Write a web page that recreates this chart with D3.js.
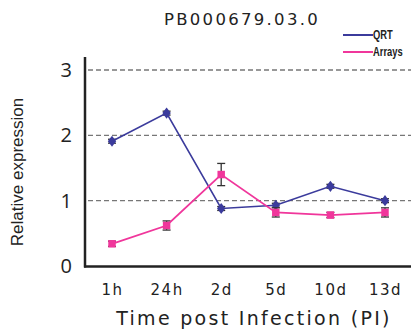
<!DOCTYPE html>
<html>
<head>
<meta charset="utf-8">
<script src="https://cdn.jsdelivr.net/npm/d3@7"></script>
<style>
  body { margin: 0; background: #fff; }
  text { fill: #222; }
</style>
</head>
<body>
<script>
var width = 411;
var height = 336;

// data
var times = ["1h", "24h", "2d", "5d", "10d", "13d"];
var qrtValues = [1.91, 2.34, 0.88, 0.93, 1.22, 1.0];
var qrtErrors = [0.03, 0.03, 0.03, 0.03, 0.03, 0.03];
var arrayValues = [0.34, 0.62, 1.40, 0.82, 0.78, 0.82];
var arrayErrors = [0.04, 0.07, 0.17, 0.07, 0.04, 0.07];
var yTicks = [0, 1, 2, 3];

var svg = d3.select("body").append("svg")
  .attr("width", width)
  .attr("height", height);

var xScale = d3.scalePoint()
  .domain(times)
  .range([112, 385]);

var yScale = d3.scaleLinear()
  .domain([0, 3])
  .range([266, 70]);

// dashed grid lines
svg.selectAll(".grid")
  .data(yTicks.filter(function(d) { return d > 0; }))
  .enter().append("line")
  .attr("x1", 88).attr("x2", width)
  .attr("y1", function(d) { return yScale(d); })
  .attr("y2", function(d) { return yScale(d); })
  .attr("stroke", "#777")
  .attr("stroke-width", 1.3)
  .attr("stroke-dasharray", "5,3");

// axes
var yAxis = d3.axisLeft(yScale).tickValues(yTicks).tickSize(0).tickPadding(13)
  .tickFormat(d3.format("d"));
var gy = svg.append("g").attr("transform", "translate(85,0)").call(yAxis);
gy.select(".domain").remove();
gy.selectAll("text").attr("font-family", "Open Sans, sans-serif").attr("font-size", 20).attr("fill", "#222");

svg.append("line")
  .attr("x1", 85).attr("x2", 85).attr("y1", 57).attr("y2", 267.5)
  .attr("stroke", "#222").attr("stroke-width", 2.5);
svg.append("line")
  .attr("x1", 84).attr("x2", width).attr("y1", 266.5).attr("y2", 266.5)
  .attr("stroke", "#222").attr("stroke-width", 2.5);

var xAxis = d3.axisBottom(xScale).tickSize(0).tickPadding(0);
var gx = svg.append("g").attr("transform", "translate(0,284)").call(xAxis);
gx.select(".domain").remove();
gx.selectAll("text")
  .attr("font-family", "DejaVu Sans, sans-serif")
  .attr("font-size", 15)
  .attr("letter-spacing", 1.5)
  .attr("fill", "#222");

// titles
svg.append("text")
  .attr("x", 242).attr("y", 25)
  .attr("text-anchor", "middle")
  .attr("font-family", "DejaVu Sans, sans-serif")
  .attr("font-size", 16.5)
  .attr("letter-spacing", 2.3)
  .text("PB000679.03.0");

svg.append("text")
  .attr("x", 254).attr("y", 325)
  .attr("text-anchor", "middle")
  .attr("font-family", "DejaVu Sans, sans-serif")
  .attr("font-size", 19)
  .attr("letter-spacing", 2.3)
  .text("Time post Infection (PI)");

svg.append("text")
  .attr("transform", "translate(23,172) rotate(-90)")
  .attr("text-anchor", "middle")
  .attr("font-family", "Liberation Sans, sans-serif")
  .attr("font-size", 17)
  .text("Relative expression");

// series
var series = [
  { name: "QRT", values: qrtValues, errors: qrtErrors, color: "#3b3b9c", marker: "diamond", width: 1.6 },
  { name: "Arrays", values: arrayValues, errors: arrayErrors, color: "#f0369b", marker: "square", width: 1.8 }
];

var line = d3.line()
  .x(function(d, i) { return xScale(times[i]); })
  .y(function(d) { return yScale(d); });

series.forEach(function(s) {
  var g = svg.append("g");

  // error bars
  var eb = g.selectAll(".err").data(s.values).enter().append("g").attr("stroke", "#333").attr("stroke-width", 1.3);
  eb.append("line")
    .attr("x1", function(d, i) { return xScale(times[i]); })
    .attr("x2", function(d, i) { return xScale(times[i]); })
    .attr("y1", function(d, i) { return yScale(d + s.errors[i]); })
    .attr("y2", function(d, i) { return yScale(d - s.errors[i]); });
  [1, -1].forEach(function(sign) {
    eb.append("line")
      .attr("x1", function(d, i) { return xScale(times[i]) - 4; })
      .attr("x2", function(d, i) { return xScale(times[i]) + 4; })
      .attr("y1", function(d, i) { return yScale(d + sign * s.errors[i]); })
      .attr("y2", function(d, i) { return yScale(d + sign * s.errors[i]); });
  });

  g.append("path")
    .datum(s.values)
    .attr("d", line)
    .attr("fill", "none")
    .attr("stroke", s.color)
    .attr("stroke-width", s.width);

  var sym = d3.symbol()
    .type(s.marker === "square" ? d3.symbolSquare : d3.symbolDiamond)
    .size(s.marker === "square" ? 56 : 36);
  g.selectAll(".pt").data(s.values).enter().append("path")
    .attr("d", sym)
    .attr("transform", function(d, i) {
      return "translate(" + xScale(times[i]) + "," + yScale(d) + ")" +
        (s.marker === "diamond" ? " scale(1.3,1)" : "");
    })
    .attr("fill", s.color);
});

// legend
var legend = svg.append("g");
series.forEach(function(s, i) {
  var y = 35 + i * 17;
  legend.append("line")
    .attr("x1", 343).attr("x2", 373).attr("y1", y).attr("y2", y)
    .attr("stroke", s.color).attr("stroke-width", 2);
  legend.append("text")
    .attr("transform", "translate(373," + (y + 4) + ") scale(0.78,1)")
    .attr("font-family", "Liberation Sans, sans-serif")
    .attr("font-size", 12)
    .attr("font-weight", "bold")
    .text(s.name);
});
</script>
</body>
</html>
